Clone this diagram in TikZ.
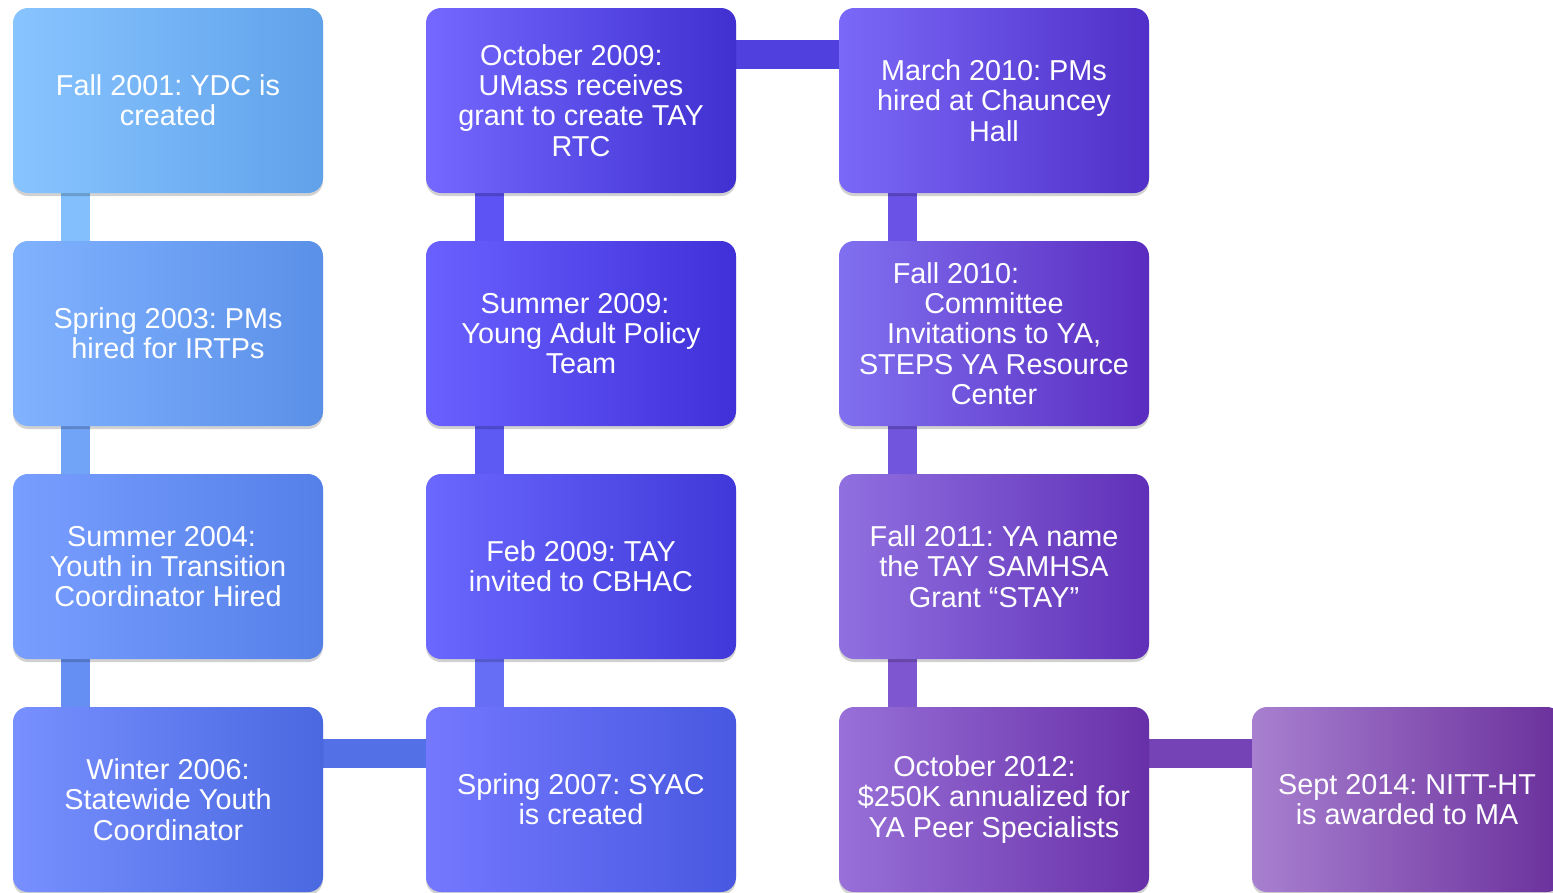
\documentclass[tikz,border=0pt]{standalone}
\usepackage{fontspec}
\setmainfont{Liberation Sans}
\frenchspacing
\usetikzlibrary{shadows,backgrounds}
\begin{document}
\begin{tikzpicture}[x=1pt,y=-1pt,
  box/.style 2 args={rounded corners=15pt, minimum width=310pt, minimum height=185pt,
    inner sep=0pt, left color=#1, right color=#2, text=white, align=center,
    font=\fontsize{28.8}{30.3}\selectfont\frenchspacing,
    drop shadow={shadow xshift=0pt, shadow yshift=-3pt, opacity=0.18, fill=black}},
  bar/.style={line width=29pt, draw=#1}
]
\useasboundingbox (0,0) rectangle (1553,892);
\begin{scope}
\clip (0,0) rectangle (1553,892);
\definecolor{a1}{HTML}{88C4FF}\definecolor{b1}{HTML}{60A2EA}
\definecolor{a2}{HTML}{80B2FF}\definecolor{b2}{HTML}{5B90E8}
\definecolor{a3}{HTML}{789EFF}\definecolor{b3}{HTML}{5580E8}
\definecolor{a4}{HTML}{7890FF}\definecolor{b4}{HTML}{4A68E0}
\definecolor{a5}{HTML}{7478FF}\definecolor{b5}{HTML}{4858E0}
\definecolor{a6}{HTML}{6A68FF}\definecolor{b6}{HTML}{4038D8}
\definecolor{a7}{HTML}{6A60FF}\definecolor{b7}{HTML}{4030D8}
\definecolor{a8}{HTML}{7468FF}\definecolor{b8}{HTML}{4030D0}
\definecolor{a9}{HTML}{7A68F8}\definecolor{b9}{HTML}{5030C8}
\definecolor{a10}{HTML}{8070F0}\definecolor{b10}{HTML}{5A2CC0}
\definecolor{a11}{HTML}{9070E0}\definecolor{b11}{HTML}{6030B8}
\definecolor{a12}{HTML}{9870D8}\definecolor{b12}{HTML}{6830A8}
\definecolor{a13}{HTML}{A880D0}\definecolor{b13}{HTML}{6A309C}

\node[box={a1}{b1}] (n1) at (168,100.5) {Fall 2001: YDC is\\created};
\node[box={a2}{b2}] (n2) at (168,333.5) {Spring 2003: PMs\\hired for IRTPs};
\node[box={a3}{b3}] (n3) at (168,566.5) {Summer 2004:\hspace*{13pt}\\Youth in Transition\\Coordinator Hired};
\node[box={a4}{b4}] (n4) at (168,799.5) {Winter 2006:\\Statewide Youth\\Coordinator};
\node[box={a5}{b5}] (n5) at (581,799.5) {Spring 2007: SYAC\\is created};
\node[box={a6}{b6}] (n6) at (581,566.5) {Feb 2009: TAY\\invited to CBHAC};
\node[box={a7}{b7}] (n7) at (581,333.5) {Summer 2009:\hspace*{12pt}\\Young Adult Policy\\Team};
\node[box={a8}{b8}] (n8) at (581,100.5) {October 2009:\hspace*{19pt}\\UMass receives\\grant to create TAY\\RTC};
\node[box={a9}{b9}] (n9) at (994,100.5) {March 2010: PMs\\hired at Chauncey\\Hall};
\node[box={a10}{b10}] (n10) at (994,333.5) {Fall 2010:\hspace*{76pt}\\Committee\\Invitations to YA,\\STEPS YA Resource\\Center};
\node[box={a11}{b11}] (n11) at (994,566.5) {Fall 2011: YA name\\the TAY SAMHSA\\Grant “STAY”};
\node[box={a12}{b12}] (n12) at (994,799.5) {October 2012:\hspace*{19pt}\\\$250K annualized for\\YA Peer Specialists};
\node[box={a13}{b13}] (n13) at (1407,799.5) {Sept 2014: NITT-HT\\is awarded to MA};

\begin{pgfonlayer}{background}
\draw[bar=a1!85!b1] ([xshift=-93pt]n1.center) -- ([xshift=-93pt]n2.center);
\draw[bar=a2!60!b2] ([xshift=-93pt]n2.center) -- ([xshift=-93pt]n3.center);
\draw[bar=a3!50!b3] ([xshift=-93pt]n3.center) -- ([xshift=-93pt]n4.center);
\draw[bar=b4!80!a4] ([yshift=46pt]n4.center) -- ([yshift=46pt]n5.center);
\draw[bar=a5!70!b5] ([xshift=-92pt]n5.center) -- ([xshift=-92pt]n6.center);
\draw[bar=a6!70!b6] ([xshift=-92pt]n6.center) -- ([xshift=-92pt]n7.center);
\draw[bar=a7!70!b7] ([xshift=-92pt]n7.center) -- ([xshift=-92pt]n8.center);
\draw[bar=b8!70!a8] ([yshift=46pt]n8.center) -- ([yshift=46pt]n9.center);
\draw[bar=a9!60!b9] ([xshift=-92pt]n9.center) -- ([xshift=-92pt]n10.center);
\draw[bar=a10!60!b10] ([xshift=-92pt]n10.center) -- ([xshift=-92pt]n11.center);
\draw[bar=a11!60!b11] ([xshift=-92pt]n11.center) -- ([xshift=-92pt]n12.center);
\draw[bar=b12!70!a12] ([yshift=46pt]n12.center) -- ([yshift=46pt]n13.center);
\end{pgfonlayer}
\end{scope}
\end{tikzpicture}
\end{document}
